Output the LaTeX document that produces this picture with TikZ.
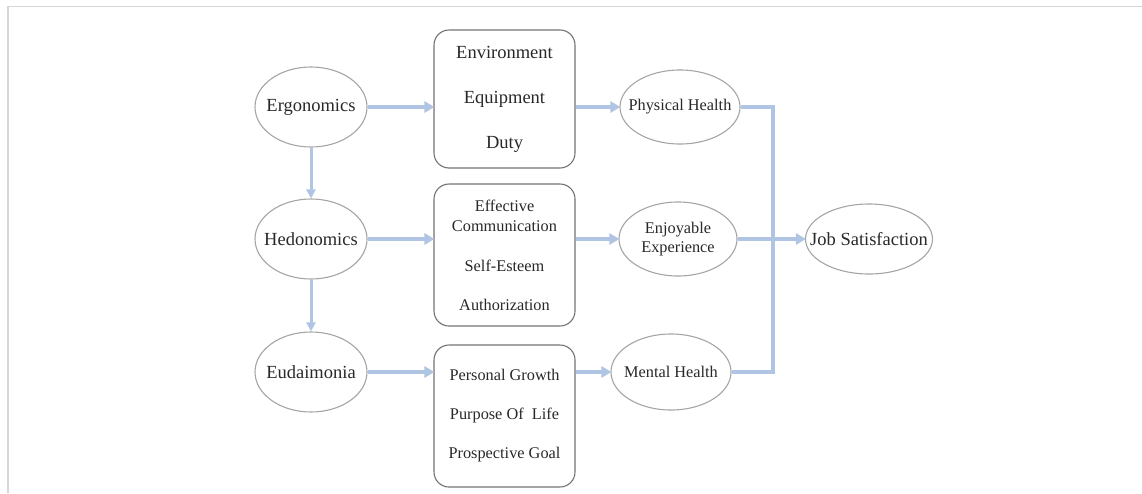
\documentclass[tikz,border=0pt]{standalone}
\usepackage{fontspec}
\setmainfont{Liberation Serif}
\usetikzlibrary{shapes.geometric,arrows.meta}
\definecolor{flow}{RGB}{176,196,228}
\definecolor{ellgray}{RGB}{165,165,165}
\definecolor{boxgray}{RGB}{115,115,115}
\definecolor{txt}{RGB}{40,40,40}
\definecolor{frame}{RGB}{215,215,215}
\tikzset{
  oval/.style={ellipse, draw=ellgray, line width=1.1pt, inner xsep=-16pt, inner ysep=0pt, text=txt, align=center},
  bigtxt/.style={font=\fontsize{18.5}{22}\selectfont},
  smalltxt/.style={font=\fontsize{16.3}{19.5}\selectfont},
  itembox/.style={draw=boxgray, line width=1.1pt, rounded corners=15pt, minimum width=141pt, text=txt, align=center, inner sep=0pt},
  arr/.style={draw=flow, line width=4pt, -{Triangle[length=10pt,width=11pt]}, shorten >=-1pt},
  varr/.style={draw=flow, line width=3pt, -{Triangle[length=9pt,width=9pt]}},
  bus/.style={draw=flow, line width=4pt},
}
\begin{document}
\begin{tikzpicture}[x=1pt,y=-1pt]
\useasboundingbox (0,0) rectangle (1142,493);
\draw[frame, line width=1.5pt] (8,493) -- (8,6.5) -- (1142,6.5);

% left ellipses
\node[oval, bigtxt, minimum width=112pt, minimum height=80pt] (ergo) at (311,107) {Ergonomics};
\node[oval, bigtxt, minimum width=112pt, minimum height=80pt] (hedo) at (311,239) {Hedonomics};
\node[oval, bigtxt, minimum width=112pt, minimum height=80pt] (eud) at (311,372) {Eudaimonia};

% boxes
\node[itembox, minimum height=138pt, font=\fontsize{18.5}{45}\selectfont] (box1) at (504.5,99)
  {Environment\\Equipment\\Duty};
\node[itembox, minimum height=142pt, font=\fontsize{16.3}{20}\selectfont] (box2) at (504.5,255)
  {Effective\\Communication\\[20pt]Self-Esteem\\[19pt]Authorization};
\node[itembox, minimum height=142pt, font=\fontsize{16.3}{19.5}\selectfont] (box3) at (504.5,416)
  {\raisebox{4pt}{\begin{tabular}{@{}c@{}}Personal Growth\\[19.5pt]Purpose Of~ Life\\[19.5pt]Prospective Goal\end{tabular}}};

% right ellipses
\node[oval, smalltxt, minimum width=120pt, minimum height=74pt] (phys) at (680,107) {Physical Health};
\node[oval, smalltxt, minimum width=118pt, minimum height=74pt] (enj) at (678,239) {Enjoyable\\Experience};
\node[oval, smalltxt, minimum width=120pt, minimum height=76pt] (ment) at (671,372) {Mental Health};
\node[oval, bigtxt, minimum width=127pt, minimum height=70pt] (job) at (869,239) {Job Satisfaction};

\coordinate (junc) at (773,239);

% arrows left -> boxes
\draw[arr] (ergo) -- (ergo -| box1.west);
\draw[arr] (hedo) -- (hedo -| box2.west);
\draw[arr] (eud) -- (eud -| box3.west);
% vertical
\draw[varr] (ergo) -- (hedo);
\draw[varr] (hedo) -- (eud);
% boxes -> right ellipses
\draw[arr] (phys -| box1.east) -- (phys);
\draw[arr] (enj -| box2.east) -- (enj);
\draw[arr] (ment -| box3.east) -- (ment);
% collector
\draw[bus] (phys.east) -| (junc);
\draw[bus] (ment.east) -| (junc);
\draw[arr] (enj) -- (job);
\end{tikzpicture}
\end{document}
